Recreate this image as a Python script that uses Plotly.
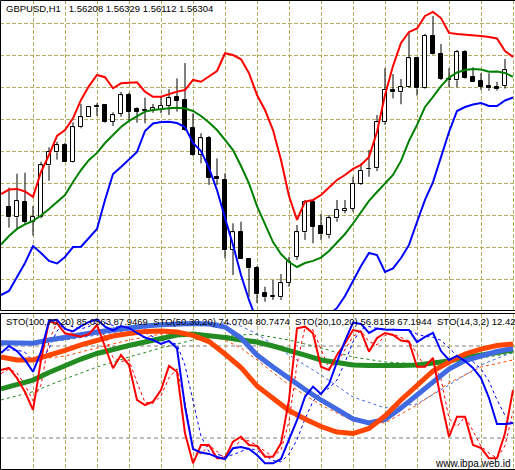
import plotly.graph_objects as go

# ---------------- price pane data (bars k = 0..62) ----------------
opens = [1.55448, 1.55386, 1.55479, 1.55358, 1.55386, 1.55711, 1.55792, 1.55836, 1.55733, 1.55948,
         1.56011, 1.56081, 1.56086, 1.55983, 1.56031, 1.56148, 1.56061, 1.56056, 1.56050, 1.56056,
         1.56081, 1.56136, 1.56119, 1.55944, 1.55775, 1.55879, 1.55639, 1.55619, 1.55181, 1.55296,
         1.55123, 1.55067, 1.54911, 1.54888, 1.54886, 1.54973, 1.55139, 1.55292, 1.55483, 1.55331,
         1.55273, 1.55379, 1.55425, 1.55438, 1.55594, 1.55686, 1.55692, 1.55979, 1.56181, 1.56167,
         1.56198, 1.56379, 1.56192, 1.56519, 1.56406, 1.56250, 1.56242, 1.56417, 1.56261, 1.56238,
         1.56206, 1.56198, 1.56208]
highs = [1.55571, 1.55658, 1.55664, 1.55456, 1.55733, 1.55823, 1.55858, 1.55852, 1.55979, 1.56094,
         1.56081, 1.56098, 1.56088, 1.56042, 1.56169, 1.56164, 1.56073, 1.56133, 1.56094, 1.56139,
         1.56186, 1.56254, 1.56350, 1.56036, 1.55911, 1.55894, 1.55754, 1.55661, 1.55348, 1.55358,
         1.55131, 1.55081, 1.54952, 1.54994, 1.55031, 1.55139, 1.55338, 1.55494, 1.55494, 1.55406,
         1.55400, 1.55494, 1.55494, 1.55639, 1.55723, 1.55806, 1.56025, 1.56317, 1.56281, 1.56250,
         1.56536, 1.56388, 1.56531, 1.56644, 1.56469, 1.56317, 1.56431, 1.56431, 1.56323, 1.56286,
         1.56286, 1.56233, 1.56375]
lows = [1.55321, 1.55306, 1.55338, 1.55271, 1.55379, 1.55614, 1.55746, 1.55733, 1.55729, 1.55942,
        1.56011, 1.56019, 1.55977, 1.55956, 1.56014, 1.55994, 1.55977, 1.55973, 1.56039, 1.56036,
        1.56025, 1.56046, 1.55925, 1.55769, 1.55723, 1.55588, 1.55588, 1.55129, 1.55025, 1.55123,
        1.54889, 1.54850, 1.54858, 1.54869, 1.54869, 1.54952, 1.55119, 1.55244, 1.55223, 1.55244,
        1.55254, 1.55358, 1.55411, 1.55421, 1.55588, 1.55639, 1.55675, 1.55963, 1.56129, 1.56092,
        1.56194, 1.56146, 1.56188, 1.56400, 1.56244, 1.56198, 1.56198, 1.56252, 1.56231, 1.56181,
        1.56177, 1.56177, 1.56190]
closes = [1.55386, 1.55486, 1.55358, 1.55386, 1.55711, 1.55792, 1.55836, 1.55733, 1.55948, 1.56011,
          1.56073, 1.56073, 1.55983, 1.56023, 1.56148, 1.56044, 1.56046, 1.56053, 1.56067, 1.56081,
          1.56129, 1.56114, 1.55931, 1.55775, 1.55879, 1.55633, 1.55623, 1.55181, 1.55292, 1.55123,
          1.55067, 1.54904, 1.54886, 1.54892, 1.54973, 1.55108, 1.55292, 1.55483, 1.55327, 1.55279,
          1.55379, 1.55431, 1.55438, 1.55594, 1.55677, 1.55688, 1.55979, 1.56181, 1.56167, 1.56198,
          1.56379, 1.56192, 1.56519, 1.56404, 1.56250, 1.56242, 1.56417, 1.56258, 1.56233, 1.56202,
          1.56192, 1.56186, 1.56304]

# Bollinger bands, k = -1..63
bb_upper = [1.55531, 1.55559, 1.55563, 1.55547, 1.55513, 1.55669, 1.55775, 1.55894, 1.55931, 1.56004,
            1.56119, 1.56206, 1.56275, 1.56261, 1.56192, 1.56223, 1.56227, 1.56229, 1.56171, 1.56139,
            1.56139, 1.56154, 1.56171, 1.56181, 1.56244, 1.56233, 1.56269, 1.56300, 1.56411, 1.56400,
            1.56373, 1.56286, 1.56150, 1.56056, 1.55931, 1.55744, 1.55519, 1.55369, 1.55483, 1.55494,
            1.55525, 1.55575, 1.55619, 1.55650, 1.55688, 1.55713, 1.55763, 1.55919, 1.56150, 1.56331,
            1.56475, 1.56544, 1.56566, 1.56644, 1.56669, 1.56631, 1.56538, 1.56531, 1.56528, 1.56525,
            1.56519, 1.56513, 1.56503, 1.56425, 1.56388]
bb_mid = [1.55216, 1.55269, 1.55313, 1.55341, 1.55363, 1.55397, 1.55438, 1.55484, 1.55525, 1.55606,
          1.55681, 1.55744, 1.55788, 1.55850, 1.55897, 1.55950, 1.55988, 1.56019, 1.56046, 1.56056,
          1.56063, 1.56067, 1.56070, 1.56066, 1.56050, 1.56019, 1.55978, 1.55931, 1.55869, 1.55806,
          1.55706, 1.55597, 1.55456, 1.55344, 1.55231, 1.55156, 1.55106, 1.55075, 1.55100, 1.55113,
          1.55134, 1.55175, 1.55225, 1.55281, 1.55347, 1.55419, 1.55488, 1.55544, 1.55600, 1.55650,
          1.55738, 1.55863, 1.55963, 1.56075, 1.56138, 1.56206, 1.56259, 1.56291, 1.56306, 1.56313,
          1.56309, 1.56296, 1.56297, 1.56288, 1.56263]
bb_lower = [1.54900, 1.54925, 1.55013, 1.55100, 1.55206, 1.55163, 1.55113, 1.55097, 1.55138, 1.55200,
            1.55202, 1.55256, 1.55313, 1.55494, 1.55656, 1.55700, 1.55744, 1.55794, 1.55925, 1.55972,
            1.55981, 1.55983, 1.55975, 1.55950, 1.55850, 1.55800, 1.55694, 1.55556, 1.55381, 1.55213,
            1.55025, 1.54869, 1.54738, 1.54631, 1.54531, 1.54569, 1.54694, 1.54781, 1.54719, 1.54731,
            1.54744, 1.54775, 1.54819, 1.54894, 1.54988, 1.55081, 1.55163, 1.55150, 1.55044, 1.55066,
            1.55131, 1.55213, 1.55356, 1.55494, 1.55606, 1.55756, 1.55919, 1.56050, 1.56075, 1.56091,
            1.56100, 1.56081, 1.56081, 1.56116, 1.56134]

# ---------------- stochastic pane data ----------------
# fast lines, k = -1..63
sto_fast_red = [64.3, 65.7, 59.1, 50.0, 38.3, 70.9, 95.9, 94.8, 88.3, 87.2, 86.1, 87.8, 93.7, 79.5, 65.5,
                74.1, 67.6, 44.8, 41.5, 43.7, 51.3, 67.0, 63.2, 23.1, 3.5, 15.4, 15.4, 6.8, 6.8, 17.6,
                20.8, 15.4, 14.8, 7.8, 7.8, 16.5, 44.8, 91.5, 92.6, 88.3, 66.5, 64.3, 74.1, 81.8, 90.4,
                89.3, 76.3, 85.2, 88.5, 87.2, 83.6, 82.8, 66.5, 66.5, 72.2, 44.8, 20.8, 33.9, 33.9, 15.4,
                13.5, 6.8, 6.8, 23.1, 51.3]
sig_fast_red = [62.0, 65.0, 62.4, 54.6, 44.2, 54.6, 83.4, 95.4, 91.6, 87.8, 86.7, 87.0, 90.8, 86.6, 72.5,
                69.8, 70.9, 56.2, 43.2, 42.6, 47.5, 59.2, 65.1, 43.2, 13.3, 9.5, 15.4, 11.1, 6.8, 12.2,
                19.2, 18.1, 15.1, 11.3, 7.8, 12.2, 30.7, 68.2, 92.1, 90.5, 77.4, 65.4, 69.2, 78.0, 86.1,
                89.9, 82.8, 80.8, 86.9, 87.9, 85.4, 83.2, 74.7, 66.5, 69.4, 58.5, 32.8, 27.4, 33.9, 24.7,
                14.5, 10.2, 6.8, 15.0, 37.2]
sto_fast_blue = [75.4, 80.0, 76.7, 70.9, 63.2, 76.1, 96.3, 97.0, 91.1, 89.5, 93.0, 95.7, 97.4, 92.6, 90.1,
                 93.0, 91.7, 88.5, 85.5, 83.9, 81.3, 83.3, 78.5, 40.4, 12.8, 10.5, 9.6, 7.6, 6.3, 13.3,
                 14.1, 12.8, 8.9, 3.5, 3.5, 6.3, 18.7, 31.7, 46.9, 53.5, 48.7, 55.2, 69.6, 83.3, 95.3,
                 94.4, 88.5, 91.4, 90.8, 90.4, 90.4, 90.4, 82.6, 85.9, 88.5, 76.7, 70.9, 73.5, 70.2, 65.7,
                 59.1, 46.1, 29.1, 29.1, 29.8]
sig_fast_blue = [76.0, 77.5, 77.4, 75.9, 70.3, 70.1, 78.5, 89.8, 94.8, 92.5, 91.2, 92.7, 95.4, 95.2, 93.4,
                 91.9, 91.6, 91.1, 88.6, 86.0, 83.6, 82.8, 81.0, 67.4, 43.9, 21.2, 11.0, 9.2, 7.8, 9.1,
                 11.2, 13.4, 11.9, 8.4, 5.3, 4.4, 9.5, 18.9, 32.4, 44.0, 49.7, 52.5, 57.8, 69.4, 82.7,
                 91.0, 92.7, 91.4, 90.2, 90.9, 90.5, 90.4, 87.8, 86.3, 85.7, 83.7, 78.7, 73.7, 71.5, 69.8,
                 65.0, 57.0, 44.8, 34.8, 29.3]
# slow lines, every 2 bars: k = -1, 1, 3, ... 63
slow_idx = list(range(-1, 64, 2))
sto_slow_green = [52.0, 54.9, 57.8, 62.7, 67.3, 71.5, 75.1, 78.0, 80.3, 82.6, 84.9, 87.2, 87.8, 86.9,
                  85.5, 83.9, 82.6, 80.0, 77.4, 74.1, 70.9, 68.9, 67.6, 67.3, 67.0, 67.3, 67.6, 68.6,
                  70.2, 72.5, 74.1, 75.8, 77.4]
sto_slow_blue = [82.2, 82.0, 81.8, 83.9, 85.9, 87.5, 89.1, 90.4, 92.1, 93.0, 93.8, 94.4, 94.7, 94.4,
                 92.4, 85.2, 74.1, 66.3, 58.8, 51.6, 44.8, 38.3, 32.4, 29.8, 32.1, 39.6, 48.0, 57.2,
                 65.0, 70.5, 73.8, 76.4, 78.4]
sto_slow_orange = [72.8, 70.9, 70.9, 73.8, 77.1, 80.7, 83.9, 86.5, 88.2, 89.5, 89.8, 89.1, 86.9, 82.9,
                   74.8, 66.0, 53.9, 45.4, 37.9, 32.4, 27.5, 23.9, 22.9, 26.2, 34.3, 44.8, 53.9, 63.7,
                   69.6, 74.8, 78.0, 80.3, 81.3]
# signal (dashed) lines of the slow ones, every 4 bars
sig_idx = [-1, 3, 7, 11, 15, 19, 23, 27, 29, 31, 35, 39, 43, 47, 51, 55, 59, 63]
sig_green = [44.8, 50.2, 58.5, 66.3, 72.8, 78.7, 83.9, 86.8, 87.3, 87.5, 83.9, 78.7, 72.8, 69.6, 68.3, 69.6, 72.2, 75.4]
sig_blue = [80.7, 82.0, 83.9, 87.2, 90.4, 93.0, 95.0, 95.0, 93.0, 87.8, 74.1, 61.1, 46.7, 39.6, 42.2, 54.6, 67.6, 76.1]
sig_orange = [72.2, 70.9, 73.5, 78.7, 83.9, 87.8, 88.5, 83.9, 78.7, 70.9, 54.6, 41.5, 31.1, 29.8, 41.5, 55.9, 66.3, 70.9]
levels = [20, 80]

NB2 = "\u00a0\u00a0"
title_text = "GBPUSD,H1\u00a0\u00a0\u00a01.56208 1.56329 1.56112 1.56304"
sub_text = ("STO(100,70,20) 85.0563 87.9469" + NB2 + "STO(50,30,20) 74.0704 80.7474" + NB2 +
            "STO(20,10,20) 56.8158 67.1944" + NB2 + "STO(14,3,2) 12.4257")
watermark = "www.ibpa.web.id"

W, H = 515, 470
GRID = "#b5ad62"

bars = list(range(len(opens)))
lines_x = list(range(-1, len(bb_upper) - 1))

fig = go.Figure()

# wicks (drawn as two parts so they do not cross white bodies)
wx, wy = [], []
for k, o, h, l, c in zip(bars, opens, highs, lows, closes):
    top, bot = max(o, c), min(o, c)
    wx += [k, k, None, k, k, None]
    wy += [h, top, None, bot, l, None]
fig.add_trace(go.Scatter(x=wx, y=wy, mode="lines", line=dict(color="black", width=1),
                         hoverinfo="skip", xaxis="x", yaxis="y"))

# bodies
body_base = [min(o, c) for o, c in zip(opens, closes)]
body_h = [max(abs(c - o), 0.000005) for o, c in zip(opens, closes)]
body_col = ["white" if c >= o else "black" for o, c in zip(opens, closes)]
fig.add_trace(go.Bar(x=bars, y=body_h, base=body_base, width=0.5,
                     marker=dict(color=body_col, line=dict(color="black", width=1)),
                     xaxis="x", yaxis="y"))

for arr, col in [(bb_upper, "#ff0000"), (bb_mid, "#008000"), (bb_lower, "#0000ff")]:
    fig.add_trace(go.Scatter(x=lines_x, y=arr, mode="lines", line=dict(color=col, width=2),
                             xaxis="x", yaxis="y"))

# lower pane
for arr, col in [(sig_green, "#228b22"), (sig_blue, "#4169e1"), (sig_orange, "#ff4500")]:
    fig.add_trace(go.Scatter(x=sig_idx, y=arr, mode="lines",
                             line=dict(color=col, width=1, dash="3px,3px"), xaxis="x2", yaxis="y2"))
for arr, col in [(sig_fast_red, "#ff0000"), (sig_fast_blue, "#0000ff")]:
    fig.add_trace(go.Scatter(x=lines_x, y=arr, mode="lines",
                             line=dict(color=col, width=1, dash="3px,3px"), xaxis="x2", yaxis="y2"))
for arr, col in [(sto_slow_green, "#228b22"), (sto_slow_blue, "#4169e1"), (sto_slow_orange, "#ff4500")]:
    fig.add_trace(go.Scatter(x=slow_idx, y=arr, mode="lines", line=dict(color=col, width=5),
                             xaxis="x2", yaxis="y2"))
for arr, col in [(sto_fast_red, "#ff0000"), (sto_fast_blue, "#0000ff")]:
    fig.add_trace(go.Scatter(x=lines_x, y=arr, mode="lines", line=dict(color=col, width=2),
                             xaxis="x2", yaxis="y2"))

def px(x):
    return x / W

def py(y):
    return 1 - y / H

def seg(x0, y0, x1, y1):
    return dict(type="line", xref="paper", yref="paper", x0=px(x0), y0=py(y0), x1=px(x1), y1=py(y1),
                line=dict(color="black", width=1))

shapes = []
for lv in levels:
    shapes.append(dict(type="line", xref="x2 domain", yref="y2", x0=0, x1=1, y0=lv, y1=lv,
                       line=dict(color="#808080", width=1, dash="4px,3px"), layer="below"))
# pane frames (right side is cut off by the crop)
shapes += [seg(0.5, 0.5, 515, 0.5), seg(0.5, 0.5, 0.5, 310.5), seg(0.5, 310.5, 515, 310.5),
           seg(0.5, 313.5, 515, 313.5), seg(0.5, 313.5, 0.5, 469.5), seg(0.5, 469.5, 515, 469.5)]

font = dict(family="Liberation Sans, Arial, sans-serif", size=9.5, color="black")
annotations = [
    dict(text=title_text, xref="paper", yref="paper", x=px(4), y=py(8), xanchor="left",
         yanchor="middle", showarrow=False, font=font),
    dict(text=sub_text, xref="paper", yref="paper", x=px(4), y=py(321), xanchor="left",
         yanchor="middle", showarrow=False, font=font),
    dict(text=watermark, xref="paper", yref="paper", x=px(512), y=py(463), xanchor="right",
         yanchor="middle", showarrow=False, font=dict(family="Liberation Sans, Arial, sans-serif",
                                                      size=10, color="black")),
]

xr = [-1.125, (W - 9) / 8]
xcommon = dict(range=xr, showgrid=True, gridcolor=GRID, griddash="4px,2px", gridwidth=1,
               dtick=4, tick0=-1, showticklabels=False, zeroline=False, ticks="", fixedrange=True)
fig.update_layout(
    width=W, height=H, margin=dict(l=0, r=0, t=0, b=0),
    paper_bgcolor="white", plot_bgcolor="white", showlegend=False, bargap=0,
    xaxis=dict(domain=[0, 1], anchor="y", **xcommon),
    xaxis2=dict(domain=[0, 1], anchor="y2", matches="x", **xcommon),
    yaxis=dict(domain=[py(311), 1], range=[1.5480, 1.5620 + 87 / 16000], dtick=0.002, tick0=1.548,
               showgrid=True, gridcolor=GRID, griddash="4px,2px", showticklabels=False,
               zeroline=False, ticks=""),
    yaxis2=dict(domain=[py(469), py(314)], range=[-0.22, 100.87], showgrid=False,
                showticklabels=False, zeroline=False, ticks=""),
    shapes=shapes, annotations=annotations,
)

fig.write_html("out.html")
